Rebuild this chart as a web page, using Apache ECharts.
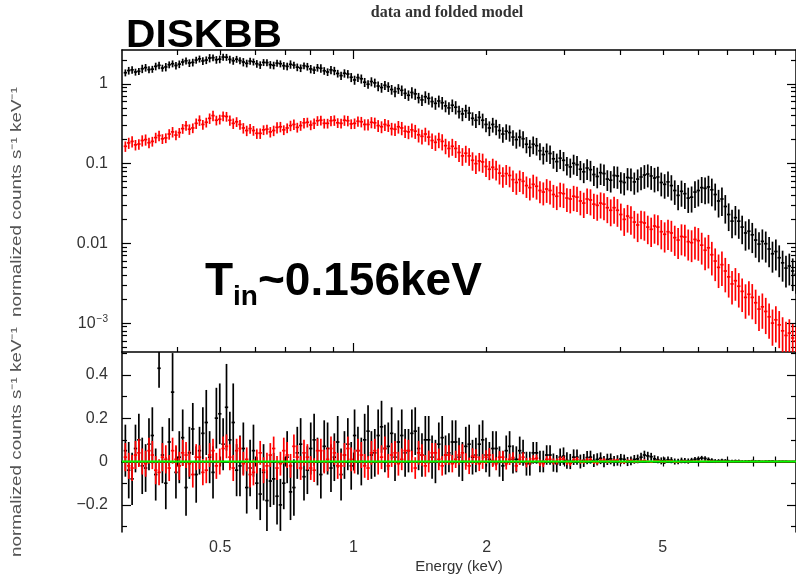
<!DOCTYPE html>
<html><head><meta charset="utf-8">
<script src="https://cdn.jsdelivr.net/npm/echarts@6/dist/echarts.min.js"></script>
<style>html,body{margin:0;padding:0;background:#fff}#c{width:796px;height:580px}</style>
</head><body><div id="c"></div>
<script>
// ---------------- data ----------------
const energy = [0.3053,0.3107,0.3162,0.3218,0.3275,0.3333,0.3392,0.3452,0.3513,0.3575,
0.3638,0.3702,0.3768,0.3835,0.3903,0.3972,0.4042,0.4114,0.4186,0.4260,
0.4336,0.4413,0.4490,0.4569,0.4651,0.4733,0.4817,0.4902,0.4989,0.5077,
0.5167,0.5258,0.5351,0.5446,0.5542,0.5640,0.5740,0.5842,0.5945,0.6050,
0.6157,0.6266,0.6377,0.6490,0.6604,0.6721,0.6840,0.6961,0.7084,0.7209,
0.7337,0.7467,0.7599,0.7733,0.7870,0.8009,0.8151,0.8295,0.8442,0.8591,
0.8743,0.8898,0.9055,0.9215,0.9378,0.9544,0.9713,0.9885,1.0060,1.0238,
1.0419,1.0603,1.0791,1.0982,1.1176,1.1374,1.1575,1.1780,1.1988,1.2200,
1.2416,1.2636,1.2859,1.3086,1.3318,1.3554,1.3793,1.4037,1.4285,1.4538,
1.4795,1.5057,1.5323,1.5594,1.5870,1.6151,1.6436,1.6727,1.7023,1.7324,
1.7631,1.7943,1.8260,1.8583,1.8912,1.9247,1.9587,1.9933,2.0286,2.0645,
2.1010,2.1382,2.1760,2.2145,2.2537,2.2936,2.3341,2.3754,2.4174,2.4602,
2.5037,2.5480,2.5931,2.6390,2.6856,2.7331,2.7815,2.8307,2.8808,2.9318,
2.9836,3.0364,3.0901,3.1448,3.2004,3.2570,3.3146,3.3732,3.4329,3.4936,
3.5554,3.6183,3.6823,3.7474,3.8137,3.8812,3.9498,4.0197,4.0908,4.1632,
4.2368,4.3118,4.3880,4.4656,4.5446,4.6250,4.7068,4.7901,4.8748,4.9610,
5.0488,5.1381,5.2290,5.3215,5.4156,5.5114,5.6089,5.7081,5.8091,5.9119,
6.0164,6.1228,6.2311,6.3414,6.4535,6.5677,6.6838,6.8021,6.9224,7.0449,
7.1694,7.2963,7.4253,7.5567,7.6903,7.8264,7.9648,8.1058,8.2490,8.3950,
8.5434,8.6946,8.8483,9.0049,9.1641,9.3263,9.4912,9.6592,9.8299,10.000];

const blackRate = [1.38,1.47,1.50,1.41,1.44,1.55,1.60,1.51,1.53,1.66,
1.71,1.58,1.63,1.74,1.79,1.70,1.77,1.88,1.95,1.83,
1.86,1.99,2.06,1.94,1.99,2.11,2.13,2.01,2.04,2.17,
2.16,2.03,1.95,2.04,1.96,1.88,1.81,1.93,1.89,1.79,
1.73,1.86,1.85,1.74,1.71,1.82,1.79,1.69,1.66,1.76,
1.72,1.62,1.58,1.69,1.65,1.54,1.49,1.60,1.57,1.46,
1.41,1.50,1.46,1.35,1.27,1.36,1.33,1.21,1.12,1.20,
1.16,1.05,0.99,1.07,1.03,0.94,0.90,0.96,0.92,0.85,
0.80,0.87,0.83,0.76,0.72,0.78,0.75,0.67,0.63,0.69,
0.66,0.60,0.57,0.61,0.58,0.53,0.50,0.54,0.51,0.45,
0.42,0.46,0.43,0.37,0.35,0.38,0.35,0.31,0.28,0.31,
0.29,0.26,0.235,0.255,0.245,0.215,0.20,0.215,0.205,0.175,
0.16,0.175,0.168,0.145,0.13,0.142,0.134,0.115,0.106,0.117,
0.11,0.096,0.091,0.101,0.097,0.085,0.079,0.088,0.084,0.073,
0.069,0.077,0.075,0.064,0.062,0.071,0.07,0.06,0.058,0.067,
0.066,0.059,0.064,0.068,0.072,0.074,0.07,0.066,0.068,0.058,
0.055,0.059,0.053,0.046,0.040,0.045,0.042,0.037,0.038,0.044,
0.046,0.05,0.049,0.051,0.047,0.041,0.034,0.036,0.029,0.023,
0.019,0.021,0.019,0.016,0.0135,0.0142,0.0128,0.011,0.0098,0.0106,
0.0099,0.0085,0.0074,0.0079,0.0066,0.0057,0.0049,0.0052,0.0045,0.0041];

const blackRateErr = [0.1,0.11,0.11,0.1,0.1,0.12,0.11,0.1,0.1,0.11,
0.11,0.1,0.12,0.1,0.1,0.11,0.11,0.1,0.1,0.11,
0.11,0.1,0.1,0.11,0.11,0.12,0.1,0.11,0.11,0.1,
0.1,0.11,0.11,0.1,0.1,0.12,0.11,0.1,0.1,0.11,
0.11,0.1,0.1,0.11,0.11,0.1,0.1,0.11,0.11,0.12,
0.1,0.11,0.11,0.1,0.11,0.12,0.11,0.11,0.12,0.11,
0.11,0.12,0.12,0.11,0.12,0.12,0.12,0.13,0.13,0.12,
0.13,0.13,0.12,0.13,0.13,0.14,0.14,0.13,0.14,0.14,
0.15,0.14,0.15,0.15,0.15,0.16,0.16,0.15,0.16,0.17,
0.17,0.16,0.17,0.17,0.18,0.17,0.18,0.18,0.19,0.18,
0.19,0.19,0.2,0.19,0.2,0.2,0.21,0.2,0.21,0.21,
0.22,0.21,0.22,0.22,0.23,0.22,0.23,0.24,0.24,0.23,
0.24,0.25,0.25,0.24,0.25,0.26,0.26,0.25,0.26,0.27,
0.27,0.26,0.27,0.28,0.28,0.27,0.28,0.29,0.29,0.28,
0.29,0.3,0.3,0.29,0.3,0.31,0.31,0.3,0.31,0.31,
0.32,0.31,0.32,0.32,0.33,0.32,0.33,0.34,0.34,0.33,
0.34,0.35,0.35,0.34,0.35,0.36,0.36,0.35,0.36,0.37,
0.37,0.36,0.37,0.38,0.38,0.37,0.38,0.39,0.39,0.38,
0.39,0.4,0.4,0.39,0.4,0.41,0.41,0.4,0.41,0.41,
0.42,0.41,0.42,0.42,0.43,0.42,0.43,0.43,0.44,0.43];

const redRate = [0.165,0.182,0.19,0.172,0.176,0.195,0.20,0.183,0.19,0.212,
0.225,0.205,0.21,0.235,0.25,0.228,0.245,0.275,0.30,0.27,
0.28,0.32,0.35,0.31,0.33,0.37,0.40,0.35,0.36,0.395,
0.39,0.35,0.32,0.335,0.31,0.28,0.26,0.275,0.26,0.24,
0.24,0.265,0.27,0.25,0.26,0.285,0.29,0.265,0.28,0.30,
0.31,0.285,0.30,0.325,0.33,0.305,0.32,0.345,0.35,0.32,
0.32,0.345,0.35,0.325,0.32,0.35,0.345,0.315,0.32,0.34,
0.335,0.31,0.31,0.33,0.325,0.30,0.29,0.31,0.30,0.275,
0.27,0.29,0.28,0.255,0.25,0.265,0.255,0.23,0.22,0.235,
0.215,0.195,0.185,0.2,0.19,0.168,0.155,0.165,0.155,0.138,
0.125,0.135,0.125,0.11,0.10,0.108,0.105,0.092,0.085,0.09,
0.085,0.076,0.07,0.075,0.071,0.063,0.058,0.063,0.06,0.053,
0.05,0.055,0.052,0.046,0.044,0.048,0.046,0.041,0.039,0.043,
0.042,0.037,0.036,0.039,0.038,0.034,0.032,0.036,0.035,0.031,
0.030,0.032,0.031,0.028,0.026,0.028,0.026,0.023,0.020,0.022,
0.021,0.0185,0.017,0.0185,0.018,0.016,0.015,0.0165,0.016,0.014,
0.013,0.014,0.0135,0.0118,0.011,0.0122,0.012,0.0105,0.0102,0.0112,
0.0108,0.0095,0.0082,0.0088,0.0072,0.006,0.005,0.0054,0.0045,0.0038,
0.0031,0.0034,0.0029,0.0025,0.0021,0.0023,0.0021,0.0018,0.0015,0.0016,
0.0014,0.0012,0.001,0.0011,0.00095,0.0008,0.0007,0.00075,0.00065,0.0006];

const redRateErr = [0.15,0.16,0.16,0.15,0.15,0.16,0.16,0.15,0.14,0.15,
0.15,0.14,0.14,0.15,0.15,0.14,0.14,0.14,0.14,0.15,
0.14,0.15,0.15,0.14,0.14,0.15,0.15,0.14,0.14,0.14,
0.14,0.15,0.15,0.14,0.14,0.15,0.15,0.14,0.14,0.15,
0.15,0.14,0.14,0.15,0.15,0.16,0.15,0.14,0.14,0.15,
0.15,0.14,0.14,0.15,0.14,0.14,0.15,0.14,0.14,0.14,
0.14,0.15,0.15,0.14,0.14,0.15,0.15,0.14,0.15,0.15,
0.15,0.16,0.16,0.16,0.16,0.17,0.17,0.17,0.17,0.18,
0.18,0.18,0.19,0.18,0.19,0.2,0.2,0.2,0.21,0.2,
0.21,0.22,0.22,0.22,0.23,0.22,0.23,0.24,0.24,0.24,
0.25,0.24,0.25,0.26,0.26,0.26,0.27,0.26,0.27,0.28,
0.28,0.28,0.29,0.28,0.29,0.3,0.3,0.3,0.31,0.3,
0.31,0.32,0.32,0.31,0.32,0.33,0.33,0.32,0.33,0.34,
0.34,0.33,0.34,0.35,0.35,0.34,0.35,0.35,0.36,0.35,
0.36,0.36,0.37,0.36,0.37,0.37,0.38,0.37,0.38,0.38,
0.39,0.38,0.39,0.39,0.4,0.39,0.4,0.4,0.41,0.4,
0.41,0.41,0.42,0.41,0.42,0.42,0.43,0.42,0.43,0.44,
0.44,0.43,0.44,0.45,0.45,0.44,0.45,0.46,0.46,0.45,
0.45,0.44,0.46,0.45,0.46,0.46,0.47,0.46,0.47,0.47,
0.48,0.47,0.48,0.48,0.49,0.48,0.49,0.49,0.5,0.49];

const blackRes = [0.05,-0.04,-0.08,0.06,0.10,-0.02,-0.03,0.08,0.12,-0.06,
0.43,0.03,-0.10,0.09,0.32,-0.05,0.02,0.11,-0.12,0.04,
0.15,-0.06,0.05,0.13,0.18,0.02,-0.05,0.2,0.22,0.08,
0.25,0.1,0.18,-0.04,-0.02,0.06,-0.12,-0.03,0.05,-0.1,
-0.15,-0.05,-0.18,-0.09,-0.08,-0.16,-0.20,-0.1,0.02,-0.14,
-0.12,0.04,0.08,-0.07,-0.04,0.06,0.10,0.0,-0.06,0.07,
0.06,-0.03,0.02,0.09,-0.06,0.03,0.08,-0.02,0.12,0.05,
0.0,0.1,0.14,0.03,0.04,0.12,0.16,0.06,0.07,0.13,
0.02,0.09,0.12,0.04,0.05,0.13,0.14,0.06,0.03,0.1,
0.1,0.02,0.0,0.08,0.11,0.03,0.04,0.09,0.09,0.02,
0.0,0.07,0.08,0.02,0.03,0.08,0.1,0.03,0.01,0.06,
0.06,0.0,-0.02,0.05,0.07,0.01,0.01,0.05,0.04,-0.01,
-0.01,0.04,0.04,0.0,0.0,0.03,0.03,-0.005,-0.01,0.02,
0.025,0.005,0.0,0.02,0.02,0.0,0.005,0.018,0.02,0.004,
0.01,0.015,0.0,0.01,0.012,0.002,0.005,0.012,0.01,0.0,
0.003,0.01,0.012,0.02,0.03,0.026,0.022,0.012,0.008,0.003,
0.004,0.008,0.006,0.0,0.0,0.005,0.004,0.002,0.006,0.01,
0.012,0.016,0.014,0.009,0.006,0.002,0.003,0.005,0.004,0.001,
0.002,0.003,0.003,0.0,0.001,0.002,0.003,0.001,0.002,0.0,
0.001,0.002,0.002,0.0,0.001,0.001,0.001,0.0,0.0,0.001];

const blackResErr = [0.12,0.13,0.12,0.11,0.12,0.13,0.11,0.12,0.13,0.12,
0.09,0.13,0.12,0.11,0.18,0.12,0.12,0.13,0.13,0.12,
0.12,0.13,0.11,0.12,0.15,0.12,0.12,0.14,0.14,0.12,
0.2,0.13,0.18,0.12,0.14,0.12,0.12,0.13,0.12,0.12,
0.12,0.13,0.14,0.12,0.12,0.13,0.12,0.12,0.12,0.13,
0.13,0.12,0.12,0.11,0.11,0.12,0.12,0.11,0.11,0.12,
0.12,0.11,0.11,0.12,0.12,0.11,0.12,0.11,0.12,0.11,
0.11,0.12,0.12,0.11,0.11,0.12,0.12,0.11,0.11,0.12,
0.11,0.1,0.12,0.11,0.1,0.11,0.11,0.1,0.1,0.11,
0.11,0.1,0.1,0.1,0.1,0.09,0.09,0.1,0.1,0.09,
0.09,0.09,0.09,0.08,0.08,0.09,0.09,0.08,0.08,0.08,
0.08,0.07,0.07,0.07,0.07,0.065,0.06,0.065,0.06,0.055,
0.055,0.05,0.05,0.05,0.05,0.045,0.045,0.042,0.04,0.04,
0.04,0.038,0.035,0.036,0.035,0.032,0.03,0.031,0.03,0.029,
0.028,0.027,0.026,0.026,0.025,0.024,0.024,0.023,0.022,0.021,
0.02,0.02,0.02,0.02,0.02,0.019,0.018,0.017,0.016,0.016,
0.015,0.015,0.014,0.014,0.013,0.013,0.012,0.012,0.011,0.011,
0.01,0.01,0.01,0.01,0.009,0.009,0.008,0.008,0.007,0.007,
0.006,0.006,0.006,0.006,0.005,0.005,0.005,0.005,0.004,0.004,
0.004,0.004,0.004,0.004,0.003,0.003,0.003,0.003,0.003,0.003];

const redRes = [0.02,-0.02,-0.03,0.03,0.04,0.0,-0.01,0.05,0.03,-0.04,
-0.05,0.02,0.01,-0.03,0.05,0.01,-0.02,0.04,0.03,-0.01,
-0.06,0.02,0.02,-0.05,-0.04,0.03,0.05,-0.02,0.0,0.06,
0.07,0.02,-0.03,0.05,0.06,-0.01,0.01,-0.06,-0.05,0.0,
0.04,-0.04,-0.02,0.03,0.06,-0.03,-0.01,0.05,0.03,-0.02,
0.07,0.02,-0.03,0.04,0.02,-0.03,-0.04,0.05,0.05,0.0,
0.01,0.06,0.04,-0.02,-0.02,0.03,0.06,0.01,0.0,0.05,
0.03,-0.02,-0.03,0.04,0.05,0.0,0.02,0.06,-0.02,0.03,
0.04,-0.01,0.01,0.05,0.05,0.0,-0.03,0.04,0.03,-0.02,
0.0,0.04,0.04,0.01,-0.02,0.03,0.03,-0.01,0.01,0.03,
0.04,0.0,-0.02,0.025,0.02,-0.01,0.0,0.02,0.03,0.005,
-0.01,0.02,0.02,-0.01,0.01,0.018,-0.02,0.01,0.02,-0.005,
0.0,0.012,0.015,-0.005,-0.01,0.01,0.01,0.0,0.0,0.01,
0.012,-0.004,-0.008,0.006,0.01,0.0,0.0,0.007,0.008,-0.003,
-0.005,0.004,0.006,0.0,0.002,0.005,0.005,-0.002,-0.003,0.003,
0.004,0.0,0.001,0.003,0.004,0.001,-0.002,0.002,0.003,0.0,
0.0,0.002,0.002,-0.001,-0.002,0.001,0.002,0.0,0.001,0.002,
0.0015,0.0,0.0,0.001,0.001,0.0,0.0,0.0005,0.001,0.0,
0.0,0.0005,0.0005,0.0,0.0,0.0003,0.0005,0.0,0.0,0.0002,
0.0003,0.0,0.0,0.0002,0.0002,0.0,0.0,0.0001,0.0,0.0];

const redResErr = [0.065,0.06,0.06,0.065,0.065,0.06,0.06,0.06,0.065,0.065,
0.06,0.065,0.065,0.06,0.06,0.065,0.065,0.06,0.06,0.06,
0.06,0.06,0.055,0.06,0.06,0.055,0.055,0.06,0.06,0.055,
0.055,0.06,0.06,0.055,0.055,0.055,0.055,0.06,0.06,0.055,
0.055,0.06,0.06,0.055,0.055,0.055,0.055,0.06,0.06,0.055,
0.055,0.055,0.055,0.06,0.06,0.055,0.055,0.055,0.055,0.055,
0.055,0.055,0.055,0.06,0.06,0.055,0.055,0.055,0.055,0.055,
0.06,0.055,0.055,0.055,0.055,0.06,0.055,0.055,0.055,0.055,
0.055,0.055,0.05,0.055,0.05,0.05,0.05,0.055,0.05,0.05,
0.05,0.045,0.045,0.05,0.045,0.045,0.045,0.04,0.04,0.045,
0.04,0.038,0.038,0.036,0.036,0.034,0.034,0.032,0.032,0.03,
0.03,0.028,0.028,0.027,0.026,0.025,0.025,0.024,0.023,0.022,
0.018,0.017,0.017,0.016,0.016,0.015,0.015,0.014,0.014,0.013,
0.013,0.012,0.012,0.011,0.011,0.01,0.01,0.01,0.01,0.009,
0.009,0.009,0.009,0.008,0.008,0.008,0.008,0.007,0.007,0.007,
0.007,0.006,0.006,0.006,0.006,0.005,0.005,0.005,0.005,0.005,
0.005,0.004,0.004,0.004,0.004,0.004,0.004,0.003,0.003,0.003,
0.003,0.003,0.003,0.003,0.003,0.002,0.002,0.002,0.002,0.002,
0.002,0.002,0.002,0.002,0.002,0.001,0.001,0.001,0.001,0.001,
0.001,0.001,0.001,0.001,0.001,0.001,0.001,0.001,0.001,0.001];

const modelZero = [[0.3, 0], [10, 0]];

// tick values
const xLabelValues = [0.5, 1, 2, 5];
const xMajorTicks = [1];
const xMinorTicks = [0.4,0.5,0.6,0.7,0.8,0.9,2,3,4,5,6,7,8,9];
const yTopLabelValues = [0.001, 0.01, 0.1, 1];
const yTopMajorTicks = [0.001, 0.01, 0.1, 1];
const yTopMinorTicks = [0.0005,0.0006,0.0007,0.0008,0.0009,0.002,0.003,0.004,0.005,0.006,0.007,0.008,0.009,
  0.02,0.03,0.04,0.05,0.06,0.07,0.08,0.09,0.2,0.3,0.4,0.5,0.6,0.7,0.8,0.9,2];
const yBotLabelValues = [-0.2, 0, 0.2, 0.4];
const yBotMajorTicks = [-0.2, 0, 0.2, 0.4];
const yBotMinorTicks = [-0.3, -0.1, 0.1, 0.3, 0.5];

// ---------------- layout ----------------
const X_MIN = 0.3, X_MAX = 10;
const YT_MIN = 4.34e-4, YT_MAX = 2.66;
const YB_MIN = -0.325, YB_MAX = 0.505;
const G_LEFT = 122, G_WIDTH = 674;
const grids = [
  { left: G_LEFT, top: 50, width: G_WIDTH, height: 302 },
  { left: G_LEFT, top: 352, width: G_WIDTH, height: 180 }
];
const LABEL_FONT = { color: '#333', fontSize: 16, fontFamily: 'Liberation Sans, Arial, sans-serif' };
const MAJOR_LEN = 9, MINOR_LEN = 5;

function axisDef(kind, type, grid, pos, ticks, len, extra) {
  const a = {
    type: type, gridIndex: grid, position: pos,
    axisLine: { show: false },
    splitLine: { show: false },
    axisTick: { show: true, inside: true, length: len, customValues: ticks, lineStyle: { color: '#000', width: 1.2 } },
    axisLabel: { show: false }
  };
  if (type === 'log') a.logBase = 10;
  if (kind === 'x') { a.min = X_MIN; a.max = X_MAX; }
  else if (grid === 0) { a.min = YT_MIN; a.max = YT_MAX; }
  else { a.min = YB_MIN; a.max = YB_MAX; }
  return Object.assign(a, extra || {});
}
const FRAME = { show: true, lineStyle: { color: '#000', width: 1.5 } };

const xAxes = [
  axisDef('x', 'log', 0, 'bottom', xMajorTicks, MAJOR_LEN, { axisLine: FRAME }),
  axisDef('x', 'log', 0, 'bottom', xMinorTicks, MINOR_LEN),
  axisDef('x', 'log', 0, 'top', xMajorTicks, MAJOR_LEN, { axisLine: FRAME }),
  axisDef('x', 'log', 0, 'top', xMinorTicks, MINOR_LEN),
  axisDef('x', 'log', 1, 'bottom', xMajorTicks, MAJOR_LEN, {
    axisLine: FRAME,
    axisLabel: Object.assign({ show: true, customValues: xLabelValues, margin: 8,
      formatter: v => String(+v.toPrecision(3)) }, LABEL_FONT)
  }),
  axisDef('x', 'log', 1, 'bottom', xMinorTicks, MINOR_LEN),
  axisDef('x', 'log', 1, 'top', xMajorTicks, MAJOR_LEN, { axisLine: FRAME }),
  axisDef('x', 'log', 1, 'top', xMinorTicks, MINOR_LEN)
];

function topLabel(v) {
  if (Math.abs(v - 1) < 1e-9) return '1';
  if (Math.abs(v - 0.1) < 1e-9) return '0.1';
  if (Math.abs(v - 0.01) < 1e-9) return '0.01';
  if (Math.abs(v - 0.001) < 1e-10) return '{b|10}{s|\u22123}';
  return '';
}
const yAxes = [
  axisDef('y', 'log', 0, 'left', yTopMajorTicks, MAJOR_LEN, {
    axisLine: FRAME,
    axisLabel: Object.assign({ show: true, customValues: yTopLabelValues, margin: 14, formatter: topLabel,
      rich: { b: { fontSize: 16, color: '#333', fontFamily: 'Liberation Sans' },
              s: { fontSize: 10, color: '#333', fontFamily: 'Liberation Sans', verticalAlign: 'top', padding: [0, 0, 7, 1] } } }, LABEL_FONT)
  }),
  axisDef('y', 'log', 0, 'left', yTopMinorTicks, MINOR_LEN),
  axisDef('y', 'log', 0, 'right', yTopMajorTicks, MAJOR_LEN, { axisLine: FRAME }),
  axisDef('y', 'log', 0, 'right', yTopMinorTicks, MINOR_LEN),
  axisDef('y', 'value', 1, 'left', yBotMajorTicks, MAJOR_LEN, {
    axisLine: FRAME,
    axisLabel: Object.assign({ show: true, customValues: yBotLabelValues, margin: 14,
      formatter: v => (Math.abs(v) < 1e-9 ? '0' : (v < 0 ? '\u2212' + Math.abs(v) : String(v))) }, LABEL_FONT)
  }),
  axisDef('y', 'value', 1, 'left', yBotMinorTicks, MINOR_LEN),
  axisDef('y', 'value', 1, 'right', yBotMajorTicks, MAJOR_LEN, { axisLine: FRAME }),
  axisDef('y', 'value', 1, 'right', yBotMinorTicks, MINOR_LEN)
];

// ---------------- error-bar data built from arrays ----------------
function binEdges(i) {
  const e = energy[i];
  const n = energy.length;
  const lo = i > 0 ? Math.sqrt(energy[i - 1] * e) : e / Math.sqrt(energy[1] / e);
  const hi = i < n - 1 ? Math.sqrt(energy[i + 1] * e) : e * Math.sqrt(e / energy[n - 2]);
  return [lo, hi];
}
function buildLog(vals, rel) {
  return energy.map((e, i) => { const b = binEdges(i); return [e, vals[i], b[0], b[1], vals[i] * (1 - rel[i]), vals[i] * (1 + rel[i])]; });
}
function buildLin(vals, err) {
  return energy.map((e, i) => { const b = binEdges(i); return [e, vals[i], b[0], b[1], vals[i] - err[i], vals[i] + err[i]]; });
}
function errRenderer(color, w) {
  return function (params, api) {
    const e = api.value(0), v = api.value(1), lo = api.value(2), hi = api.value(3), y0 = api.value(4), y1 = api.value(5);
    const a = api.coord([lo, v]), b = api.coord([hi, v]);
    const c = api.coord([e, y0]), d = api.coord([e, y1]);
    return { type: 'group', children: [
      { type: 'line', shape: { x1: a[0], y1: a[1], x2: b[0], y2: b[1] }, style: { stroke: color, lineWidth: w } },
      { type: 'line', shape: { x1: c[0], y1: c[1], x2: d[0], y2: d[1] }, style: { stroke: color, lineWidth: w } }
    ] };
  };
}
function errSeries(name, data, xi, yi, color) {
  return { name: name, type: 'custom', xAxisIndex: xi, yAxisIndex: yi, clip: true, silent: true,
    renderItem: errRenderer(color, 1.7), encode: { x: 0, y: 1 }, data: data, animation: false };
}

// ---------------- text overlays ----------------
const ctx = document.createElement('canvas').getContext('2d');
function textWidth(t, font) { ctx.font = font; return ctx.measureText(t).width; }
const YNAME = 'normalized counts s\u207B\u00B9 keV\u207B\u00B9';
const YNAME_FONT = '15px "Liberation Sans"';
const ynameScale = 230 / textWidth(YNAME, YNAME_FONT);
const DISK_FONT = 'bold 38px "Liberation Sans"';
const diskScale = 156 / textWidth('DISKBB', DISK_FONT);

function txt(x, y, text, font, fill, align, extra) {
  return Object.assign({ type: 'text', x: x, y: y, style: { text: text, font: font, fill: fill,
    textAlign: align, textVerticalAlign: 'middle', align: align, verticalAlign: 'middle' } }, extra || {});
}
const graphics = [
  txt(447, 13, 'data and folded model', 'bold 16px "Liberation Serif"', '#333', 'center'),
  txt(126, 37, 'DISKBB', DISK_FONT, '#000', 'left', { scaleX: diskScale }),
  txt(205, 282, 'T', 'bold 46px "Liberation Sans"', '#000', 'left'),
  txt(233, 297, 'in', 'bold 28px "Liberation Sans"', '#000', 'left'),
  txt(258, 282, '~0.156keV', 'bold 46px "Liberation Sans"', '#000', 'left'),
  txt(17, 202, YNAME, YNAME_FONT, '#555', 'center', { rotation: Math.PI / 2, scaleX: ynameScale }),
  txt(17, 442, YNAME, YNAME_FONT, '#555', 'center', { rotation: Math.PI / 2, scaleX: ynameScale }),
  txt(459, 567, 'Energy (keV)', '15px "Liberation Sans"', '#333', 'center')
];

const chart = echarts.init(document.getElementById('c'), null, { renderer: 'canvas' });
chart.setOption({
  backgroundColor: '#fff',
  animation: false,
  grid: grids,
  xAxis: xAxes,
  yAxis: yAxes,
  series: [
    errSeries('black data', buildLog(blackRate, blackRateErr), 0, 0, '#000'),
    errSeries('red data', buildLog(redRate, redRateErr), 0, 0, '#ff0000'),
    errSeries('black residual', buildLin(blackRes, blackResErr), 4, 4, '#000'),
    errSeries('red residual', buildLin(redRes, redResErr), 4, 4, '#ff0000'),
    { name: 'model', type: 'line', xAxisIndex: 4, yAxisIndex: 4, data: modelZero, symbol: 'none',
      lineStyle: { color: '#00ff00', width: 2 }, silent: true, animation: false }
  ],
  graphic: graphics
});
</script>
</body></html>
